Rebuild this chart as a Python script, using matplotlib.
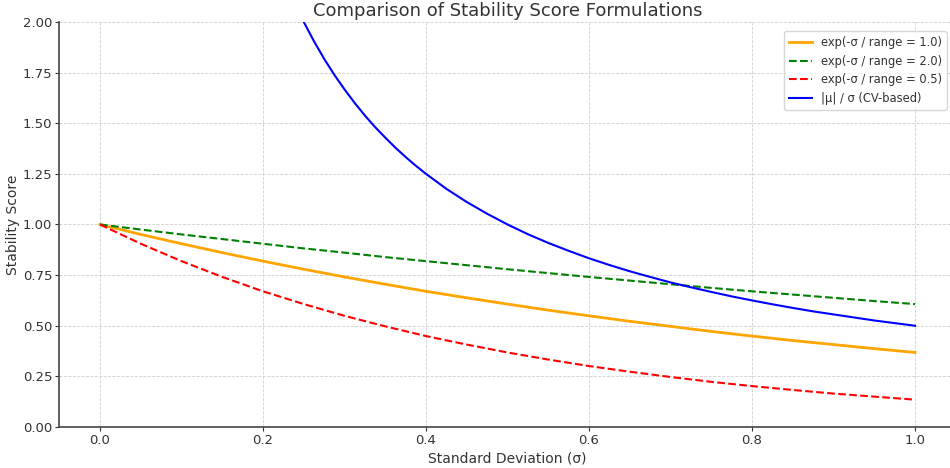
import matplotlib
matplotlib.use("Agg")
import matplotlib.pyplot as plt

sigma_exp = [0.00, 0.05, 0.10, 0.15, 0.20, 0.25, 0.30, 0.35, 0.40, 0.45, 0.50,
             0.55, 0.60, 0.65, 0.70, 0.75, 0.80, 0.85, 0.90, 0.95, 1.00]
score_r1 = [1.000, 0.951, 0.905, 0.861, 0.819, 0.779, 0.741, 0.705, 0.670, 0.638, 0.607,
            0.577, 0.549, 0.522, 0.497, 0.472, 0.449, 0.427, 0.407, 0.387, 0.368]
score_r2 = [1.000, 0.975, 0.951, 0.928, 0.905, 0.882, 0.861, 0.839, 0.819, 0.799, 0.779,
            0.760, 0.741, 0.723, 0.705, 0.687, 0.670, 0.654, 0.638, 0.622, 0.607]
score_r05 = [1.000, 0.905, 0.819, 0.741, 0.670, 0.607, 0.549, 0.497, 0.449, 0.407, 0.368,
             0.333, 0.301, 0.273, 0.247, 0.223, 0.202, 0.183, 0.165, 0.150, 0.135]

sigma_cv = [0.2250, 0.2375, 0.2500, 0.2625, 0.2750, 0.2875, 0.3000, 0.3125, 0.3250,
            0.3375, 0.3500, 0.3625, 0.3750, 0.3875, 0.400, 0.425, 0.450, 0.475,
            0.500, 0.525, 0.550, 0.575, 0.600, 0.625, 0.650, 0.675, 0.700, 0.725,
            0.750, 0.775, 0.800, 0.825, 0.850, 0.875, 0.900, 0.925, 0.950, 0.975, 1.000]
score_cv = [2.222, 2.105, 2.000, 1.905, 1.818, 1.739, 1.667, 1.600, 1.538,
            1.481, 1.429, 1.379, 1.333, 1.290, 1.250, 1.176, 1.111, 1.053,
            1.000, 0.952, 0.909, 0.870, 0.833, 0.800, 0.769, 0.741, 0.714, 0.690,
            0.667, 0.645, 0.625, 0.606, 0.588, 0.571, 0.556, 0.541, 0.526, 0.513, 0.500]

labels = ["exp(-σ / range = 1.0)", "exp(-σ / range = 2.0)",
          "exp(-σ / range = 0.5)", "|μ| / σ (CV-based)"]
xticks = [0.0, 0.2, 0.4, 0.6, 0.8, 1.0]
yticks = [0.00, 0.25, 0.50, 0.75, 1.00, 1.25, 1.50, 1.75, 2.00]

txt = "#333333"
fig = plt.figure(figsize=(9.5, 4.68), dpi=100)
ax = fig.add_axes([0.0624, 0.0876, 0.9437, 0.8654])

ax.plot(sigma_exp, score_r1, color="orange", lw=2.0, label=labels[0])
ax.plot(sigma_exp, score_r2, color="green", lw=1.5, ls="--", label=labels[1])
ax.plot(sigma_exp, score_r05, color="red", lw=1.5, ls="--", label=labels[2])
ax.plot(sigma_cv, score_cv, color="blue", lw=1.5, label=labels[3])

ax.set_xlim(-0.05, 1.05)
ax.set_ylim(0, 2)
ax.set_xticks(xticks)
ax.set_xticklabels([f"{v:.1f}" for v in xticks])
ax.set_yticks(yticks)
ax.set_yticklabels([f"{v:.2f}" for v in yticks])
ax.grid(True, ls="--", color="#d0d0d0", lw=0.6)
for s in ["top", "right"]:
    ax.spines[s].set_visible(False)
for s in ["left", "bottom"]:
    ax.spines[s].set_color("#444444")
    ax.spines[s].set_linewidth(1.2)
ax.tick_params(colors=txt, labelsize=9.5, length=3, pad=2)
ax.set_title("Comparison of Stability Score Formulations", fontsize=13, color=txt, pad=4)
ax.set_xlabel("Standard Deviation (σ)", fontsize=10, color=txt, labelpad=3)
ax.set_ylabel("Stability Score", fontsize=10, color=txt)
ax.yaxis.set_label_coords(-0.044, 0.5)
leg = ax.legend(loc="upper right", fontsize=8.3, frameon=True, borderaxespad=0.8,
                labelspacing=0.5)
for t in leg.get_texts():
    t.set_color(txt)

fig.savefig("out.png", dpi=100)
